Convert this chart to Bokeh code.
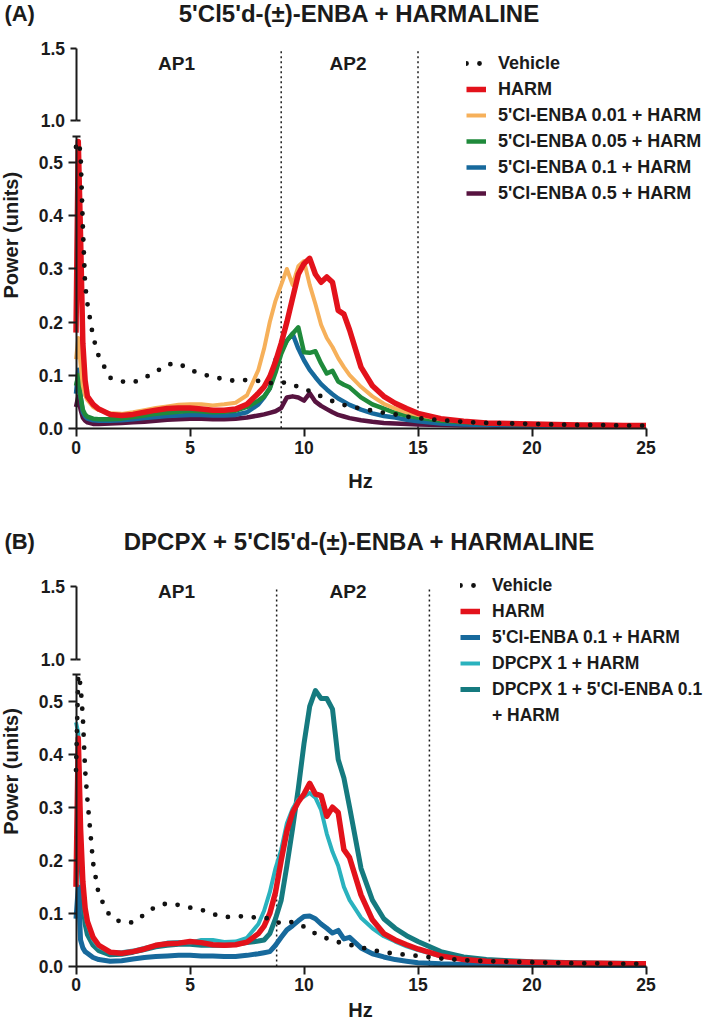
import math
from bokeh.plotting import figure
from bokeh.models import (Range1d, LinearAxis, FixedTicker, PrintfTickFormatter,
                          Label, Legend, LegendItem)
from bokeh.layouts import column
from bokeh.embed import file_html
from bokeh.resources import INLINE

# ---------------- data ----------------
freq = [0, 0.1, 0.2, 0.3, 0.4, 0.5, 0.75, 1, 1.5, 2, 2.5, 3, 3.5, 4, 4.5, 5, 5.5, 6, 6.5, 7,
        7.5, 8, 8.25, 8.5, 8.75, 9, 9.25, 9.5, 9.75, 10, 10.25, 10.5, 10.75, 11, 11.25, 11.5,
        11.75, 12, 12.5, 13, 13.5, 14, 14.5, 15, 16, 17, 18, 19, 20, 21, 22, 23, 24, 25]

# Panel A
a_vehicle = [0.53, 0.54, 0.52, 0.38, 0.27, 0.235, 0.172, 0.135, 0.095, 0.088,
             0.086, 0.095, 0.106, 0.12, 0.122, 0.11, 0.102, 0.097, 0.092, 0.089,
             0.091, 0.089, 0.087, 0.085, 0.085, 0.086, 0.086, 0.082, 0.078, 0.074,
             0.07, 0.065, 0.06, 0.055, 0.051, 0.048, 0.044, 0.041, 0.037, 0.033,
             0.029, 0.026, 0.022, 0.019, 0.015, 0.012, 0.01, 0.009, 0.008, 0.007,
             0.006, 0.006, 0.005, 0.005]
a_harm = [0.18, 0.54, 0.36, 0.16, 0.09, 0.06, 0.045, 0.036, 0.026, 0.024,
          0.026, 0.03, 0.034, 0.037, 0.038, 0.038, 0.036, 0.034, 0.034, 0.036,
          0.045, 0.066, 0.078, 0.097, 0.125, 0.16, 0.2, 0.245, 0.29, 0.31,
          0.32, 0.29, 0.275, 0.285, 0.275, 0.222, 0.215, 0.185, 0.115, 0.08,
          0.06, 0.047, 0.037, 0.028, 0.018, 0.013, 0.01, 0.009, 0.008, 0.007,
          0.006, 0.006, 0.005, 0.005]
a_enba001 = [0.13, 0.17, 0.12, 0.08, 0.062, 0.053, 0.04, 0.034, 0.028, 0.027,
             0.03, 0.034, 0.038, 0.041, 0.044, 0.045, 0.045, 0.043, 0.045, 0.048,
             0.062, 0.11, 0.15, 0.2, 0.24, 0.27, 0.3, 0.27, 0.305, 0.315,
             0.27, 0.234, 0.195, 0.17, 0.153, 0.132, 0.115, 0.1, 0.078, 0.06,
             0.046, 0.037, 0.03, 0.025, 0.017, 0.012, 0.01, 0.009, 0.008, 0.007,
             0.006, 0.006, 0.005, 0.005]
a_enba005 = [0.08, 0.1, 0.06, 0.035, 0.026, 0.022, 0.018, 0.017, 0.017, 0.018,
             0.021, 0.024, 0.027, 0.029, 0.031, 0.033, 0.032, 0.03, 0.031, 0.033,
             0.04, 0.052, 0.06, 0.075, 0.105, 0.14, 0.165, 0.178, 0.19, 0.143,
             0.142, 0.145, 0.122, 0.103, 0.108, 0.088, 0.082, 0.077, 0.058, 0.045,
             0.037, 0.029, 0.024, 0.02, 0.014, 0.011, 0.009, 0.008, 0.007, 0.006,
             0.006, 0.005, 0.005, 0.004]
a_enba01 = [0.065, 0.11, 0.06, 0.03, 0.022, 0.018, 0.015, 0.014, 0.014, 0.015,
            0.017, 0.019, 0.021, 0.023, 0.024, 0.025, 0.025, 0.024, 0.024, 0.025,
            0.03, 0.045, 0.058, 0.075, 0.13, 0.146, 0.165, 0.178, 0.15, 0.128,
            0.11, 0.096, 0.083, 0.073, 0.064, 0.056, 0.05, 0.044, 0.035, 0.028,
            0.023, 0.02, 0.016, 0.013, 0.009, 0.007, 0.006, 0.005, 0.005, 0.004,
            0.004, 0.004, 0.003, 0.003]
a_enba05 = [0.04, 0.06, 0.035, 0.02, 0.014, 0.011, 0.008, 0.008, 0.009, 0.01,
            0.011, 0.012, 0.014, 0.016, 0.017, 0.018, 0.018, 0.017, 0.017, 0.018,
            0.02, 0.024, 0.026, 0.029, 0.032, 0.038, 0.058, 0.06, 0.058, 0.052,
            0.066, 0.05, 0.042, 0.036, 0.03, 0.025, 0.022, 0.019, 0.015, 0.012,
            0.01, 0.009, 0.008, 0.007, 0.006, 0.005, 0.005, 0.004, 0.004, 0.004,
            0.003, 0.003, 0.003, 0.003]

# Panel B
b_vehicle = [0.37, 0.55, 0.53, 0.47, 0.37, 0.315, 0.195, 0.135, 0.094, 0.083,
             0.083, 0.098, 0.113, 0.119, 0.116, 0.111, 0.107, 0.099, 0.093, 0.094,
             0.095, 0.091, 0.091, 0.091, 0.085, 0.081, 0.083, 0.084, 0.08, 0.075,
             0.068, 0.062, 0.057, 0.053, 0.049, 0.046, 0.043, 0.041, 0.036, 0.031,
             0.027, 0.024, 0.022, 0.02, 0.015, 0.012, 0.01, 0.009, 0.008, 0.007,
             0.006, 0.006, 0.005, 0.005]
b_harm = [0.15, 0.43, 0.26, 0.16, 0.11, 0.085, 0.055, 0.04, 0.027, 0.025,
          0.028, 0.033, 0.04, 0.043, 0.044, 0.047, 0.045, 0.041, 0.04, 0.041,
          0.046, 0.062, 0.076, 0.1, 0.14, 0.2, 0.255, 0.29, 0.31, 0.325,
          0.345, 0.325, 0.322, 0.283, 0.3, 0.29, 0.22, 0.205, 0.135, 0.088,
          0.062, 0.05, 0.041, 0.033, 0.02, 0.013, 0.01, 0.009, 0.008, 0.007,
          0.006, 0.006, 0.005, 0.005]
b_enba01 = [0.09, 0.15, 0.05, 0.035, 0.028, 0.025, 0.017, 0.013, 0.01, 0.011,
            0.014, 0.017, 0.019, 0.02, 0.021, 0.021, 0.02, 0.02, 0.019, 0.019,
            0.021, 0.024, 0.026, 0.028, 0.04, 0.055, 0.069, 0.077, 0.086, 0.094,
            0.095, 0.09, 0.08, 0.072, 0.063, 0.068, 0.052, 0.055, 0.035, 0.024,
            0.018, 0.013, 0.01, 0.007, 0.005, 0.004, 0.004, 0.003, 0.003, 0.003,
            0.003, 0.002, 0.002, 0.002]
b_dpcpx = [0.46, 0.44, 0.25, 0.15, 0.1, 0.08, 0.05, 0.037, 0.027, 0.027,
           0.03, 0.035, 0.04, 0.045, 0.046, 0.045, 0.05, 0.05, 0.046, 0.047,
           0.054, 0.08, 0.105, 0.14, 0.185, 0.22, 0.27, 0.297, 0.315, 0.32,
           0.327, 0.318, 0.295, 0.25, 0.216, 0.19, 0.15, 0.125, 0.092, 0.072,
           0.057, 0.047, 0.038, 0.031, 0.019, 0.013, 0.01, 0.009, 0.008, 0.007,
           0.006, 0.006, 0.005, 0.005]
b_dpcpx_enba = [0.4, 0.4, 0.22, 0.12, 0.08, 0.06, 0.04, 0.03, 0.022, 0.023,
                0.027, 0.032, 0.037, 0.04, 0.042, 0.042, 0.04, 0.04, 0.04, 0.042,
                0.045, 0.048, 0.05, 0.062, 0.09, 0.125, 0.19, 0.26, 0.335, 0.42,
                0.49, 0.52, 0.505, 0.505, 0.485, 0.39, 0.355, 0.3, 0.185, 0.125,
                0.09, 0.072, 0.058, 0.047, 0.028, 0.018, 0.013, 0.011, 0.009, 0.008,
                0.007, 0.006, 0.006, 0.005]

x_ticks = [0, 5, 10, 15, 20, 25]
y_ticks_lower = [0.0, 0.1, 0.2, 0.3, 0.4, 0.5]
y_ticks_upper = [1.0, 1.5]
lower_top = 0.55
upper_top = 1.5

ap_bounds_a = [9.0, 15.0]
ap_bounds_b = [8.8, 15.5]

title_a = "5'Cl5'd-(\u00b1)-ENBA + HARMALINE"
title_b = "DPCPX + 5'Cl5'd-(\u00b1)-ENBA + HARMALINE"

# ---------------- styles ----------------
FONT = "Liberation Sans"
INK = "#1b1b1b"
RED = "#e3121b"
ORANGE = "#f6b05a"
GREEN = "#1f8a3b"
BLUE = "#17699c"
PURPLE = "#571340"
CYAN = "#2ab2be"
TEAL = "#157a7f"

FIG_W = 705
PX_PER_HZ = 22.8
ZERO_X = 75.5            # pixel position of 0 Hz
LOWER_PX = 530.8         # px per power unit, lower segment
UPPER_PX = 145.2         # px per power unit, upper segment
ONE_FROM_BOTTOM = 307.4  # px from x axis up to the 1.0 tick
TICK_SIZE = "17.5px"


def style_axis(ax):
    ax.axis_line_width = 2
    ax.axis_line_color = INK
    ax.major_tick_line_width = 2
    ax.major_tick_line_color = INK
    ax.minor_tick_line_width = 2
    ax.minor_tick_line_color = INK
    ax.major_tick_in = 0
    ax.major_tick_out = 8
    ax.minor_tick_in = 0
    ax.minor_tick_out = 0
    ax.major_label_text_font = FONT
    ax.major_label_text_font_style = "bold"
    ax.major_label_text_font_size = TICK_SIZE
    ax.major_label_text_color = INK


def upper_to_lower(v):
    return (ONE_FROM_BOTTOM + (v - 1.0) * UPPER_PX) / LOWER_PX


def make_panel(tag, title, series, vehicle, ap_bounds, frame_h, axis_px,
               title_y, ap_y, ylab_y, hz_y, legend_xy, legend_size, xlab_standoff,
               extra_item=None):
    below = frame_h - axis_px
    x0 = -ZERO_X / PX_PER_HZ
    p = figure(frame_width=FIG_W, frame_height=frame_h,
               min_border_left=0, min_border_right=0,
               min_border_top=0, min_border_bottom=0,
               x_range=Range1d(x0, x0 + FIG_W / PX_PER_HZ),
               y_range=Range1d(-below / LOWER_PX, axis_px / LOWER_PX),
               x_axis_location=None, y_axis_location=None,
               toolbar_location=None, output_backend="svg",
               background_fill_color="white", border_fill_color="white",
               outline_line_color=None)
    p.extra_y_ranges = {"upper": Range1d(1.0 - (ONE_FROM_BOTTOM + below) / UPPER_PX,
                                         1.0 + (axis_px - ONE_FROM_BOTTOM) / UPPER_PX)}
    p.xgrid.visible = False
    p.ygrid.visible = False

    # x axis, drawn at power = 0
    xa = LinearAxis(fixed_location=0, bounds=(0, 25), ticker=FixedTicker(ticks=x_ticks))
    style_axis(xa)
    xa.major_label_standoff = xlab_standoff
    p.add_layout(xa, "below")

    # lower y axis segment
    ly = LinearAxis(fixed_location=0, bounds=(0, lower_top),
                    ticker=FixedTicker(ticks=y_ticks_lower, minor_ticks=[lower_top]),
                    formatter=PrintfTickFormatter(format="%.1f"))
    style_axis(ly)
    ly.minor_tick_in = 4
    ly.minor_tick_out = 4
    p.add_layout(ly, "left")

    # upper y axis segment
    uy = LinearAxis(y_range_name="upper", fixed_location=0, bounds=(1.0, upper_top),
                    ticker=FixedTicker(ticks=y_ticks_upper, minor_ticks=[1.0]),
                    formatter=PrintfTickFormatter(format="%.1f"))
    style_axis(uy)
    uy.major_tick_out = 6
    uy.minor_tick_in = 4
    p.add_layout(uy, "left")

    # AP boundaries (dotted), from 0 up to the top of the upper axis segment
    top_v = upper_to_lower(upper_top)
    p.segment(x0=ap_bounds, y0=[0] * len(ap_bounds), x1=ap_bounds,
              y1=[top_v] * len(ap_bounds), line_color=INK, line_width=1.5,
              line_dash="2 3")

    renderers = {}
    for name, vals, color, width in series:
        renderers[name] = p.line(freq, vals, line_color=color, line_width=width,
                                 line_join="round")
    rv = p.line(freq, vehicle, line_color="#111111", line_width=4.8,
                line_dash="0 13", line_cap="round")

    items = [LegendItem(label="Vehicle", renderers=[rv])]
    legend_order = [s[0] for s in series][::-1]
    for n in legend_order:
        items.append(LegendItem(label=n, renderers=[renderers[n]]))
    if extra_item is not None:
        dummy = p.line(x=[], y=[], line_alpha=0)
        items.append(LegendItem(label=extra_item, renderers=[dummy]))

    lg = Legend(items=items, location=legend_xy, glyph_width=20, glyph_height=22,
                label_height=22, spacing=4, padding=0, margin=0, label_standoff=12,
                label_text_font=FONT, label_text_font_style="bold",
                label_text_font_size=legend_size, label_text_color=INK,
                border_line_color=None, background_fill_alpha=0)
    p.add_layout(lg)

    def text(x, y, s, size, align="center", angle=0.0):
        p.add_layout(Label(x=x, y=y, text=s, angle=angle, text_font=FONT,
                           text_font_style="bold", text_font_size=size,
                           text_color=INK, text_align=align,
                           text_baseline="middle"))

    text(12.43, title_y, title, "24px")
    text(-3.14, title_y, tag, "22px", align="left")
    text(4.41, ap_y, "AP1", "19px")
    text(11.93, ap_y, "AP2", "19px")
    text(-2.87, ylab_y, "Power (units)", "20px", angle=math.pi / 2)
    text(12.48, hz_y, "Hz", "20px")
    return p


series_a = [  # drawing order bottom -> top; legend order is reversed
    ("5'Cl-ENBA 0.5 + HARM", a_enba05, PURPLE, 4.5),
    ("5'Cl-ENBA 0.1 + HARM", a_enba01, BLUE, 4.5),
    ("5'Cl-ENBA 0.05 + HARM", a_enba005, GREEN, 4.5),
    ("5'Cl-ENBA 0.01 + HARM", a_enba001, ORANGE, 4.0),
    ("HARM", a_harm, RED, 5.5),
]
series_b = [
    ("DPCPX 1 + 5'Cl-ENBA 0.1", b_dpcpx_enba, TEAL, 5.0),
    ("DPCPX 1 + HARM", b_dpcpx, CYAN, 4.0),
    ("5'Cl-ENBA 0.1 + HARM", b_enba01, BLUE, 5.0),
    ("HARM", b_harm, RED, 5.5),
]

# panel A: 500 px tall, x axis 427.7 px from its top
pa = make_panel("(A)", title_a, series_a, a_vehicle, ap_bounds_a,
                frame_h=500, axis_px=427.7, title_y=0.781, ap_y=0.6876,
                ylab_y=0.3636, hz_y=-0.0995, legend_xy=(466, 296),
                legend_size="18px", xlab_standoff=5)
# panel B: 523 px tall, x axis 466 px from its top
pb = make_panel("(B)", title_b, series_b, b_vehicle, ap_bounds_b,
                frame_h=523, axis_px=466, title_y=0.8007, ap_y=0.7074,
                ylab_y=0.3674, hz_y=-0.0815, legend_xy=(460, 297),
                legend_size="17.5px", xlab_standoff=3, extra_item="+ HARM")

layout = column(pa, pb, spacing=0)
open("out.html", "w").write(file_html(layout, INLINE))
